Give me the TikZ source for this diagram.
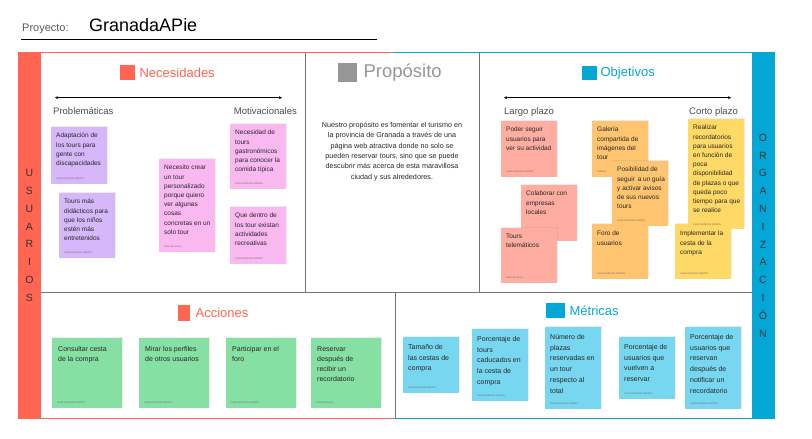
\documentclass[tikz,border=0pt]{standalone}
\usepackage{fontspec}
\setmainfont{Liberation Sans}
\usetikzlibrary{positioning,arrows.meta,shadows}

\definecolor{usured}{RGB}{255,101,80}
\definecolor{orgblue}{RGB}{3,167,214}
\definecolor{notepurple}{RGB}{214,184,250}
\definecolor{notepink}{RGB}{250,184,240}
\definecolor{notesalmon}{RGB}{255,173,161}
\definecolor{noteorange}{RGB}{255,196,112}
\definecolor{noteyellow}{RGB}{255,217,102}
\definecolor{notegreen}{RGB}{134,224,164}
\definecolor{noteblue}{RGB}{120,215,240}
\definecolor{purposegray}{RGB}{150,150,150}

\tikzset{
	sidebar/.style={minimum width=23, minimum height=367, inner sep=0, align=center, text=black!80, font=\fontsize{10.5}{17.8}\selectfont},
	divider/.style={draw=black!55, line width=0.8},
	icon/.style={anchor=north west, inner sep=0},
	heading/.style={inner sep=0, font=\fontsize{13}{15}\selectfont},
	axislabel/.style={inner sep=0, text=black!70, font=\fontsize{9.5}{11}\selectfont},
	sticky/.style={anchor=north west, minimum width=56, minimum height=56, inner sep=0, drop shadow={shadow xshift=0.5, shadow yshift=-1, opacity=0.15}},
	stickytext/.style={anchor=north west, align=left, inner xsep=5, inner ysep=6, text=black!85, font=\fontsize{6.5}{9.2}\selectfont},
	actiontext/.style={stickytext, inner xsep=6, inner ysep=8, font=\fontsize{7}{10}\selectfont},
	metrictext/.style={stickytext, inner ysep=7, font=\fontsize{7}{10.8}\selectfont},
	author/.style={anchor=south west, inner xsep=5, inner ysep=5, text=black!55, font=\fontsize{2.5}{3}\selectfont},
}

\begin{document}
\begin{tikzpicture}[x=1pt, y=-1pt]

	\useasboundingbox (0,0) rectangle (812,439);

	% cabecera
	\node[anchor=base west, inner sep=0, text=black!65, font=\fontsize{11}{13}\selectfont] (proyecto) at (22,31) {Proyecto:};
	\node[anchor=base west, inner sep=0, font=\fontsize{18}{20}\selectfont]                (nombre)   at (89,31.5) {GranadaAPie};
	\draw[line width=0.8] (21,39.5) -- (377,39.5);

	% marco
	\draw[usured,  line width=1] (41,52.5) -- (393,52.5);
	\draw[orgblue, line width=1] (393,52.5) -- (752,52.5);
	\draw[usured,  line width=1] (41,418) -- (395,418);
	\draw[orgblue, line width=1] (395,418) -- (752,418);
	\draw[divider] (305.5,52.5) -- (305.5,292.5);
	\draw[divider] (479.5,52.5) -- (479.5,292.5);
	\draw[divider] (41,292.5) -- (752,292.5);
	\draw[divider] (395.5,292.5) -- (395.5,418);

	\node[sidebar, fill=usured]  (usuarios)     at (29.5,235.5) {U\\S\\U\\A\\R\\I\\O\\S};
	\node[sidebar, fill=orgblue] (organizacion) at (763,235.5)  {O\\R\\G\\A\\N\\I\\Z\\A\\C\\I\\Ó\\N};

	% necesidades
	\node[icon, fill=usured, minimum width=15, minimum height=15] (necicon) at (120,65) {};
	\node[heading, text=usured, right=4pt of necicon] (necesidades) {Necesidades};
	\coordinate (necleft)  at (55,97.7);
	\coordinate (necright) at (282,97.7);
	\draw[{Stealth[length=3pt,width=3pt]}-{Stealth[length=3pt,width=3pt]}, line width=0.7] (necleft) -- (necright);
	\node[axislabel, anchor=base west] (problematicas)   at (53,114)  {Problemáticas};
	\node[axislabel, anchor=base east] (motivacionales)  at (297,114) {Motivacionales};

	\node[sticky, fill=notepurple, minimum height=57] (adaptacion) at (51,127) {};
	\node[stickytext] (adaptaciontxt) at (adaptacion.north west) {Adaptación de\\los tours para\\gente con\\discapacidades};
	\node[author]     (adaptacionaut) at (adaptacion.south west) {ALBA BURGOS RAMOS};

	\node[sticky, fill=notepurple, minimum height=65] (didacticos) at (59,193) {};
	\node[stickytext] (didacticostxt) at (didacticos.north west) {Tours más\\didácticos para\\que los niños\\estén más\\entretenidos};
	\node[author]     (didacticosaut) at (didacticos.south west) {ALBA BURGOS RAMOS};

	\node[sticky, fill=notepink, minimum height=93] (personalizado) at (159,159) {};
	\node[stickytext] (personalizadotxt) at (personalizado.north west) {Necesito crear\\un tour\\personalizado\\porque quiero\\ver algunas\\cosas\\concretas en un\\solo tour};
	\node[author]     (personalizadoaut) at (personalizado.south west) {Dario Bruzzone};

	\node[sticky, fill=notepink, minimum height=65] (gastronomicos) at (230,124) {};
	\node[stickytext] (gastronomicostxt) at (gastronomicos.north west) {Necesidad de\\tours\\gastronómicos\\para conocer la\\comida típica};
	\node[author]     (gastronomicosaut) at (gastronomicos.south west) {ALBA BURGOS RAMOS};

	\node[sticky, fill=notepink, minimum height=57] (recreativas) at (230,207) {};
	\node[stickytext] (recreativastxt) at (recreativas.north west) {Que dentro de\\los tour existan\\actividades\\recreativas};
	\node[author]     (recreativasaut) at (recreativas.south west) {ALBA BURGOS RAMOS};

	% proposito
	\node[icon, fill=purposegray, minimum width=19, minimum height=19] (propicon) at (338,63) {};
	\node[heading, text=purposegray, font=\fontsize{18.5}{21}\selectfont, right=6pt of propicon] (proposito) {Propósito};
	\node[inner sep=0, align=center, text=black!85, font=\fontsize{7.2}{10.3}\selectfont] (propositotxt) at (392,151.5)
		{Nuestro propósito es fomentar el turismo en\\la provincia de Granada a través de una\\página web atractiva donde no solo se\\pueden reservar tours, sino que se puede\\descubrir más acerca de esta maravillosa\\ciudad y sus alrededores.};

	% objetivos
	\node[icon, fill=orgblue, minimum width=15, minimum height=14] (objicon) at (582,66) {};
	\node[heading, text=orgblue, right=3pt of objicon] (objetivos) {Objetivos};
	\coordinate (objleft)  at (504,97.7);
	\coordinate (objright) at (731,97.7);
	\draw[{Stealth[length=3pt,width=3pt]}-{Stealth[length=3pt,width=3pt]}, line width=0.7] (objleft) -- (objright);
	\node[axislabel, anchor=base west] (largo) at (504,114) {Largo plazo};
	\node[axislabel, anchor=base east] (corto) at (738,114) {Corto plazo};

	\node[sticky, fill=notesalmon] (seguir) at (501,121) {};
	\node[stickytext] (seguirtxt) at (seguir.north west) {Poder seguir\\usuarios para\\ver su actividad};
	\node[author]     (seguiraut) at (seguir.south west) {ALBA BURGOS RAMOS};

	\node[sticky, fill=notesalmon] (colaborar) at (521,185) {};
	\node[stickytext] (colaborartxt) at (colaborar.north west) {Colaborar con\\empresas\\locales};
	\node[author]     (colaboraraut) at (colaborar.south west) {ALBA BURGOS RAMOS};

	\node[sticky, fill=notesalmon, minimum height=55] (telematicos) at (501,228) {};
	\node[stickytext] (telematicostxt) at (telematicos.north west) {Tours\\telemáticos};
	\node[author]     (telematicosaut) at (telematicos.south west) {Dario Bruzzone};

	\node[sticky, fill=noteorange] (galeria) at (592,121) {};
	\node[stickytext] (galeriatxt) at (galeria.north west) {Galería\\compartida de\\imágenes del\\tour};
	\node[author]     (galeriaaut) at (galeria.south west) {ALBA B.};

	\node[sticky, fill=noteorange, minimum height=55] (forousuarios) at (592,224) {};
	\node[stickytext, inner ysep=7] (forousuariostxt) at (forousuarios.north west) {Foro de\\usuarios};
	\node[author]     (forousuariosaut) at (forousuarios.south west) {ALBA BURGOS RAMOS};

	\node[sticky, fill=noteorange, minimum height=65] (guia) at (612,161) {};
	\node[stickytext] (guiatxt) at (guia.north west) {Posibilidad de\\seguir\, a un guía\\y activar avisos\\de sus nuevos\\tours};
	\node[author]     (guiaaut) at (guia.south west) {ALBA BURGOS RAMOS};

	\node[sticky, fill=noteyellow, minimum height=55] (cesta) at (675,224) {};
	\node[stickytext, inner ysep=7] (cestatxt) at (cesta.north west) {Implementar la\\cesta de la\\compra};
	\node[author]     (cestaaut) at (cesta.south west) {ALBA BURGOS RAMOS};

	\node[sticky, fill=noteyellow, minimum height=110] (recordatorios) at (688,119) {};
	\node[stickytext] (recordatoriostxt) at (recordatorios.north west) {Realizar\\recordatorios\\para usuarios\\en función de\\poca\\disponibilidad\\de plazas o que\\queda poco\\tiempo para que\\se realice};
	\node[author, inner ysep=3.5] (recordatoriosaut) at (recordatorios.south west) {ALBA BURGOS RAMOS};

	% acciones
	\node[icon, fill=usured, minimum width=12, minimum height=16] (accicon) at (178,305) {};
	\node[heading, text=usured, right=5pt of accicon] (acciones) {Acciones};

	\node[sticky, fill=notegreen, minimum width=70, minimum height=70] (consultar) at (52,338) {};
	\node[actiontext] (consultartxt) at (consultar.north west) {Consultar cesta\\de la compra};
	\node[author]     (consultaraut) at (consultar.south west) {ALBA BURGOS RAMOS};

	\node[sticky, fill=notegreen, minimum width=70, minimum height=70] (perfiles) at (139,338) {};
	\node[actiontext] (perfilestxt) at (perfiles.north west) {Mirar los perfiles\\de otros usuarios};
	\node[author]     (perfilesaut) at (perfiles.south west) {ALBA BURGOS RAMOS};

	\node[sticky, fill=notegreen, minimum width=70, minimum height=70] (participar) at (226,338) {};
	\node[actiontext] (participartxt) at (participar.north west) {Participar en el\\foro};
	\node[author]     (participaraut) at (participar.south west) {ALBA BURGOS RAMOS};

	\node[sticky, fill=notegreen, minimum width=70, minimum height=70] (reservar) at (311,338) {};
	\node[actiontext] (reservartxt) at (reservar.north west) {Reservar\\después de\\recibir un\\recordatorio};
	\node[author]     (reservaraut) at (reservar.south west) {Dario Bruzzone};

	% metricas
	\node[icon, fill=orgblue, minimum width=19, minimum height=15] (meticon) at (546,303) {};
	\node[heading, text=orgblue, right=4pt of meticon] (metricas) {Métricas};

	\node[sticky, fill=noteblue] (tamano) at (403,337) {};
	\node[metrictext] (tamanotxt) at (tamano.north west) {Tamaño de\\las cestas de\\compra};
	\node[author]     (tamanoaut) at (tamano.south west) {ALBA BURGOS RAMOS};

	\node[sticky, fill=noteblue, minimum height=72] (caducados) at (472,329) {};
	\node[metrictext] (caducadostxt) at (caducados.north west) {Porcentaje de\\tours\\caducados en\\la cesta de\\compra};
	\node[author]     (caducadosaut) at (caducados.south west) {ALBA BURGOS RAMOS};

	\node[sticky, fill=noteblue, minimum height=82] (plazas) at (545,327) {};
	\node[metrictext] (plazastxt) at (plazas.north west) {Número de\\plazas\\reservadas en\\un tour\\respecto al\\total};
	\node[author]     (plazasaut) at (plazas.south west) {ALBA BURGOS RAMOS};

	\node[sticky, fill=noteblue, minimum height=62] (vuelven) at (619,337) {};
	\node[metrictext] (vuelventxt) at (vuelven.north west) {Porcentaje de\\usuarios que\\vuelven a\\reservar};
	\node[author]     (vuelvenaut) at (vuelven.south west) {ALBA BURGOS RAMOS};

	\node[sticky, fill=noteblue, minimum height=82] (notificar) at (685,327) {};
	\node[metrictext] (notificartxt) at (notificar.north west) {Porcentaje de\\usuarios que\\reservan\\después de\\notificar un\\recordatorio};
	\node[author]     (notificaraut) at (notificar.south west) {ALBA BURGOS RAMOS};
\end{tikzpicture}
\end{document}
